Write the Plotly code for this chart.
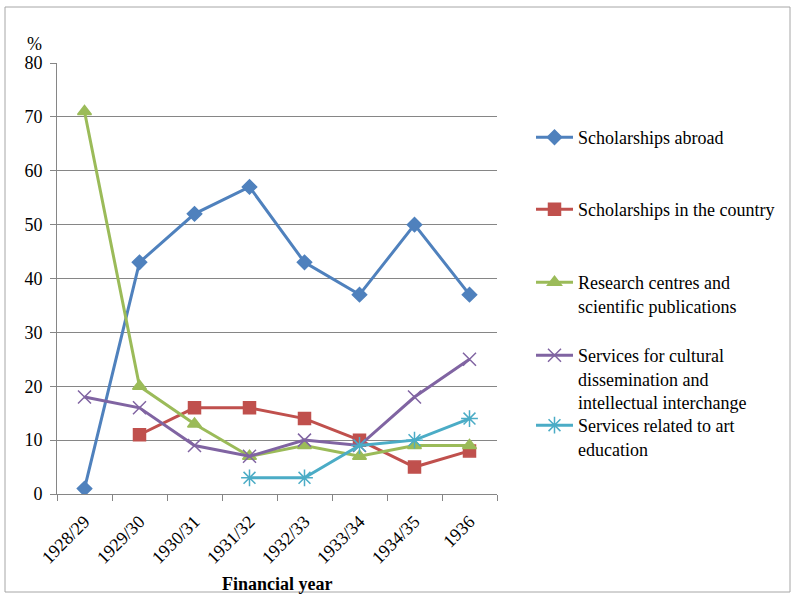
import plotly.graph_objects as go

years = ["1928/29", "1929/30", "1930/31", "1931/32", "1932/33", "1933/34", "1934/35", "1936"]
abroad = [1, 43, 52, 57, 43, 37, 50, 37]
country = [None, 11, 16, 16, 14, 10, 5, 8]
research = [71, 20, 13, 7, 9, 7, 9, 9]
cultural = [18, 16, 9, 7, 10, 9, 18, 25]
art = [None, None, None, 3, 3, 9, 10, 14]

names = [
    "Scholarships abroad",
    "Scholarships in the country",
    "Research centres and<br>scientific publications",
    "Services for cultural<br>dissemination and<br>intellectual interchange",
    "Services related to art<br>education",
]
series = [abroad, country, research, cultural, art]
colors = ["#4F81BD", "#C0504D", "#9BBB59", "#8064A2", "#4BACC6"]
symbols = ["diamond", "square", "triangle-up", "x-thin-open", "asterisk-open"]
msizes = [11, 12, 12, 13, 14]

W, H = 792, 595
L, R, T, B = 57, 497, 63, 494
pw, ph = R - L, B - T

def px_x(x):
    return (x - L) / pw

def px_y(y):
    return (B - y) / ph

FONT = "Liberation Serif"

fig = go.Figure()
legend_tops = [119, 191, 264, 337, 407]
for i, (nm, vals, c, s, ms) in enumerate(zip(names, series, colors, symbols, msizes)):
    lg = "legend" if i == 0 else f"legend{i+1}"
    fig.add_trace(go.Scatter(
        x=years, y=vals, name=nm, mode="lines+markers",
        line=dict(color=c, width=3),
        marker=dict(symbol=s, size=ms, color=c, line=dict(color=c, width=1.5)),
        connectgaps=False, legend=lg,
    ))

layout_legends = {}
for i, top in enumerate(legend_tops):
    key = "legend" if i == 0 else f"legend{i+1}"
    layout_legends[key] = dict(
        x=px_x(531), y=px_y(top), xanchor="left", yanchor="top",
        font=dict(family=FONT, size=18, color="#000000"),
        bgcolor="rgba(0,0,0,0)", itemwidth=37, valign="top",
        itemclick=False, itemdoubleclick=False,
    )

fig.update_layout(
    width=W, height=H,
    margin=dict(l=L, r=W - R, t=T, b=H - B, autoexpand=False),
    paper_bgcolor="white", plot_bgcolor="white",
    showlegend=True,
    font=dict(family=FONT, size=18, color="#000000"),
    xaxis=dict(
        type="category", range=[-0.5, 7.5], tickson="boundaries",
        ticks="outside", ticklen=6, tickcolor="#868686",
        showline=True, linecolor="#868686", linewidth=1,
        showgrid=False, tickangle=-45, ticklabelstandoff=9,
        tickfont=dict(family=FONT, size=18, color="#000000"),
    ),
    yaxis=dict(
        range=[0, 80], dtick=10, tick0=0,
        ticks="outside", ticklen=6, tickcolor="#868686",
        showline=True, linecolor="#868686", linewidth=1,
        showgrid=True, gridcolor="#868686", gridwidth=1,
        zeroline=False, ticklabelstandoff=4,
        tickfont=dict(family=FONT, size=18, color="#000000"),
    ),
    **layout_legends,
)

fig.add_annotation(
    text="%", xref="paper", yref="paper", x=px_x(34), y=px_y(44),
    xanchor="center", yanchor="middle", showarrow=False,
    font=dict(family=FONT, size=18, color="#000000"),
)
fig.add_annotation(
    text="<b>Financial year</b>", xref="paper", yref="paper", x=px_x(277), y=px_y(584),
    xanchor="center", yanchor="middle", showarrow=False,
    font=dict(family=FONT, size=18, color="#000000"),
)

fig.add_shape(
    type="rect", xref="paper", yref="paper",
    x0=px_x(5), x1=px_x(790), y0=px_y(592), y1=px_y(7),
    line=dict(color="#A6A6A6", width=1), fillcolor="rgba(0,0,0,0)", layer="below",
)

fig.write_html("out.html", config={"displayModeBar": False},
               post_script="document.body.style.margin='0';")
